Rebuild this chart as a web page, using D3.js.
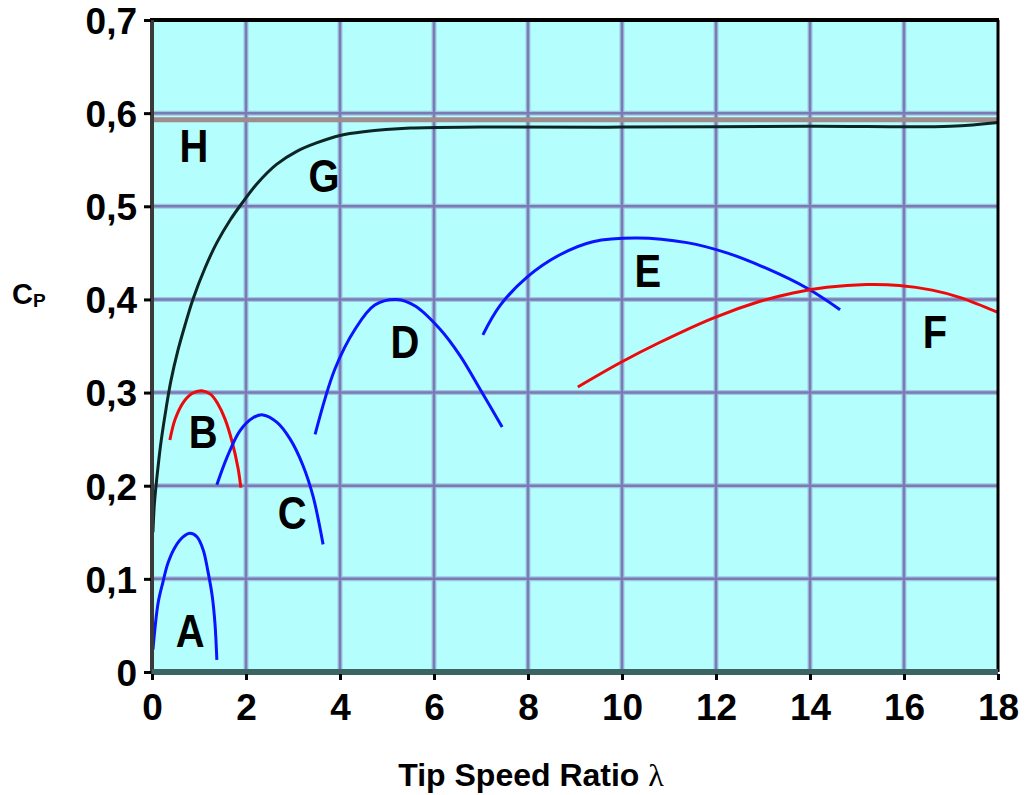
<!DOCTYPE html>
<html>
<head>
<meta charset="utf-8">
<script src="https://cdn.jsdelivr.net/npm/d3@7"></script>
<style>
  body { margin: 0; background: #fff; }
  text { font-family: "Liberation Sans", Arial, sans-serif; font-weight: bold; }
</style>
</head>
<body>
<svg width="1027" height="795"></svg>
<script>
// chart data (lambda, cp)
var xTicks = [0, 2, 4, 6, 8, 10, 12, 14, 16, 18];
var yTicks = [0, 0.1, 0.2, 0.3, 0.4, 0.5, 0.6, 0.7];

var curveA = [[0.02,0.024],[0.13,0.074],[0.23,0.096],[0.34,0.117],[0.49,0.134],[0.66,0.145],[0.81,0.149],[0.96,0.145],[1.09,0.131],[1.19,0.108],[1.28,0.082],[1.34,0.052],[1.38,0.013]];
var curveB = [[0.38,0.249],[0.49,0.271],[0.66,0.289],[0.85,0.299],[1.06,0.302],[1.25,0.298],[1.4,0.288],[1.55,0.272],[1.70,0.248],[1.83,0.219],[1.89,0.198]];
var curveC = [[1.38,0.201],[1.6,0.231],[1.87,0.259],[2.15,0.273],[2.36,0.276],[2.66,0.268],[2.94,0.250],[3.21,0.222],[3.43,0.188],[3.64,0.137]];
var curveD = [[3.47,0.255],[3.89,0.325],[4.32,0.368],[4.74,0.394],[5.21,0.4],[5.6,0.393],[6.13,0.368],[6.55,0.34],[7.0,0.302],[7.45,0.263]];
var curveE = [[7.04,0.362],[7.4,0.393],[7.98,0.424],[8.68,0.448],[9.38,0.462],[10.32,0.466],[11.38,0.461],[12.23,0.45],[13.09,0.433],[13.94,0.412],[14.64,0.389]];
var curveF = [[9.06,0.306],[9.96,0.332],[10.81,0.354],[11.94,0.38],[12.94,0.398],[13.64,0.407],[14.36,0.413],[15.2,0.416],[15.9,0.415],[16.6,0.41],[17.2,0.402],[18,0.386]];
var curveG = [[0.02,0.15],[0.05,0.18],[0.1,0.207],[0.15,0.23],[0.2,0.25],[0.3,0.283],[0.4,0.312],[0.55,0.345],[0.7,0.372],[0.87,0.4],[1.13,0.434],[1.38,0.461],[1.66,0.485],[1.91,0.503],[2.23,0.524],[2.65,0.545],[3.08,0.559],[3.5,0.568],[4.0,0.576],[4.5,0.58],[5.5,0.584],[7,0.585],[10,0.585],[14,0.586],[17,0.586],[18,0.59]];
var betz = 0.593; // H line

var series = [
  { name: "A", pts: curveA, color: "#0a14ff" },
  { name: "B", pts: curveB, color: "#ee0a0a" },
  { name: "C", pts: curveC, color: "#0a14ff" },
  { name: "D", pts: curveD, color: "#0a14ff" },
  { name: "E", pts: curveE, color: "#0a14ff" },
  { name: "F", pts: curveF, color: "#ee0a0a" },
  { name: "G", pts: curveG, color: "#0c2626" }
];

// where the curve letters sit (data units)
var labels = [
  { t: "A", x: 0.81, y: 0.027 },
  { t: "B", x: 1.09, y: 0.241 },
  { t: "C", x: 2.98, y: 0.154 },
  { t: "D", x: 5.38, y: 0.337 },
  { t: "E", x: 10.55, y: 0.413 },
  { t: "F", x: 16.66, y: 0.348 },
  { t: "G", x: 3.66, y: 0.515 },
  { t: "H", x: 0.89, y: 0.548 }
];

var pLeft = 152, pRight = 998, pTop = 20, pBottom = 672;

var svg = d3.select("svg");
var x = d3.scaleLinear().domain([0, 18]).range([pLeft, pRight]);
var y = d3.scaleLinear().domain([0, 0.7]).range([pBottom, pTop]);

// background
svg.append("rect")
  .attr("x", pLeft).attr("y", pTop)
  .attr("width", pRight - pLeft).attr("height", pBottom - pTop)
  .attr("fill", "#b4fefe");

// grid, light halo then core
var grid = svg.append("g");
function gridLines(col, w) {
  grid.selectAll(null).data(xTicks.slice(1, -1)).enter().append("line")
    .attr("x1", function(d){ return x(d); }).attr("x2", function(d){ return x(d); })
    .attr("y1", pTop).attr("y2", pBottom)
    .attr("stroke", col).attr("stroke-width", w);
  grid.selectAll(null).data(yTicks.slice(1, -1)).enter().append("line")
    .attr("y1", function(d){ return y(d); }).attr("y2", function(d){ return y(d); })
    .attr("x1", pLeft).attr("x2", pRight)
    .attr("stroke", col).attr("stroke-width", w);
}
gridLines("#9ec6e0", 5);
gridLines("#7a7ab4", 2.5);

// H line (Betz)
svg.append("line")
  .attr("x1", x(0)).attr("x2", x(18))
  .attr("y1", y(betz)).attr("y2", y(betz))
  .attr("stroke", "#a08c8c").attr("stroke-width", 5);

// curves
var line = d3.line()
  .x(function(d){ return x(d[0]); })
  .y(function(d){ return y(d[1]); })
  .curve(d3.curveCatmullRom);

svg.selectAll(".curve").data(series).enter().append("path")
  .attr("class", "curve")
  .attr("d", function(d){ return line(d.pts); })
  .attr("fill", "none")
  .attr("stroke", function(d){ return d.color; })
  .attr("stroke-width", 3);

// frame
svg.append("line").attr("x1", pLeft - 2).attr("x2", pRight + 1).attr("y1", y(0.7)).attr("y2", y(0.7))
  .attr("stroke", "#000").attr("stroke-width", 4);
svg.append("line").attr("x1", pRight).attr("x2", pRight).attr("y1", pTop).attr("y2", pBottom)
  .attr("stroke", "#000").attr("stroke-width", 3);
svg.append("line").attr("x1", pLeft).attr("x2", pLeft).attr("y1", pTop).attr("y2", pBottom + 2)
  .attr("stroke", "#3a3a3a").attr("stroke-width", 4);
svg.append("line").attr("x1", pLeft).attr("x2", pRight).attr("y1", pBottom).attr("y2", pBottom)
  .attr("stroke", "#3d6464").attr("stroke-width", 6);

// axes
var yAxis = d3.axisLeft(y).tickValues(yTicks).tickSize(7).tickPadding(7)
  .tickFormat(function(d){ return d === 0 ? "0" : d3.format(".1f")(d).replace(".", ","); });
var gy = svg.append("g").attr("transform", "translate(" + (pLeft - 1) + ",0)").call(yAxis);
gy.select(".domain").remove();
gy.selectAll(".tick line").attr("stroke", "#000").attr("stroke-width", 3);
gy.selectAll(".tick text").attr("font-size", 37).attr("fill", "#000")
  .attr("font-family", "Liberation Sans, Arial, sans-serif").attr("font-weight", "bold")
  .attr("dy", "0.36em");

var xAxis = d3.axisBottom(x).tickValues(xTicks).tickSize(6).tickPadding(14);
var gx = svg.append("g").attr("transform", "translate(0," + (pBottom + 2) + ")").call(xAxis);
gx.select(".domain").remove();
gx.selectAll(".tick line").attr("stroke", "#000").attr("stroke-width", 3);
gx.selectAll(".tick text").attr("font-size", 37).attr("fill", "#000")
  .attr("font-family", "Liberation Sans, Arial, sans-serif").attr("font-weight", "bold");

// curve letters
svg.selectAll(".lbl").data(labels).enter().append("text")
  .attr("class", "lbl")
  .attr("transform", function(d){ return "translate(" + x(d.x) + "," + y(d.y) + ") scale(0.85,1)"; })
  .attr("text-anchor", "middle")
  .attr("font-size", 47)
  .attr("fill", "#000")
  .text(function(d){ return d.t; });

// axis titles
svg.append("text")
  .attr("x", 531).attr("y", 786)
  .attr("text-anchor", "middle")
  .attr("font-size", 32)
  .text("Tip Speed Ratio ")
  .append("tspan").attr("font-family", "Liberation Serif, serif").attr("font-weight", "normal").text("λ");

var cp = svg.append("text").attr("x", 12).attr("y", 304).attr("font-size", 29);
cp.append("tspan").text("C");
cp.append("tspan").attr("font-size", 19).attr("dy", 3).text("P");
</script>
</body>
</html>
